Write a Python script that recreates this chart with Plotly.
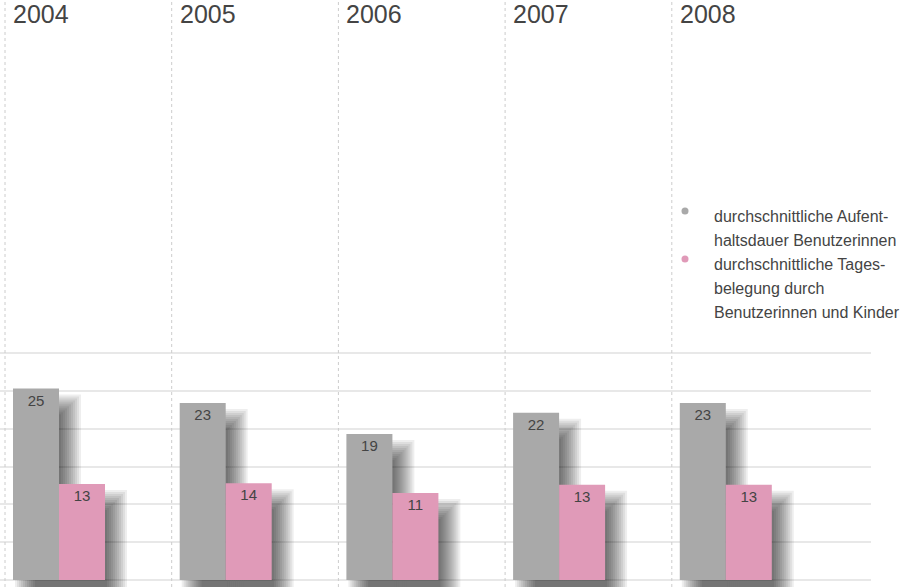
import plotly.graph_objects as go

years = ["2004", "2005", "2006", "2007", "2008"]
aufenthalt = [25.3, 23.4, 19.3, 22.1, 23.4]
aufenthalt_labels = ["25", "23", "19", "22", "23"]
belegung = [12.7, 12.8, 11.5, 12.6, 12.6]
belegung_labels = ["13", "14", "11", "13", "13"]
series_names = [
    ["durchschnittliche Aufent-", "haltsdauer Benutzerinnen"],
    ["durchschnittliche Tages-", "belegung durch", "Benutzerinnen und Kinder"],
]
y_ticks = [0, 5, 10, 15, 20, 25, 30]

GRAY = "#a9a9a9"
PINK = "#e09ab8"
TEXT = "#444444"
FONT = "Liberation Sans, Arial"

W, H = 915, 587
PLOT_W = 871
Y0_PX, Y30_PX = 580, 353
PXU = (Y0_PX - Y30_PX) / 30.0          # px per y unit
P = 166.7                               # px per panel
X0 = 5                                  # first panel line px

def ux(px):
    return (px - X0) / P

def uy(py):
    return (Y0_PX - py) / PXU

xr = [ux(0), ux(PLOT_W)]
yr = [uy(H), uy(0)]

BW = 46 / P
gx = [i + (8 + 23) / P for i in range(len(years))]
px_ = [i + (8 + 46 + 23) / P for i in range(len(years))]

fig = go.Figure()

fig.add_trace(go.Bar(
    x=gx, y=aufenthalt, width=[BW] * len(years), marker=dict(color=GRAY, line=dict(width=0)),
    text=aufenthalt_labels, textposition="inside", insidetextanchor="end",
    textfont=dict(size=15, color=TEXT, family=FONT), constraintext="none",
    textangle=0, showlegend=False, hoverinfo="skip"))
fig.add_trace(go.Bar(
    x=px_, y=belegung, width=[BW] * len(years), marker=dict(color=PINK, line=dict(width=0)),
    text=belegung_labels, textposition="inside", insidetextanchor="end",
    textfont=dict(size=15, color=TEXT, family=FONT), constraintext="none",
    textangle=0, showlegend=False, hoverinfo="skip"))

shapes = []
# blurred drop shadows
OFFX, OFFY = 12, 16
steps = [-10, -8, -6, -4, -2, 0, 2, 4, 6, 8, 10]
for centers, vals in ((gx, aufenthalt), (px_, belegung)):
    for c, v in zip(centers, vals):
        for e in steps:
            dx = OFFX / P
            shapes.append(dict(
                type="rect", xref="x", yref="y", layer="between",
                x0=c - BW / 2 + dx - e / P, x1=c + BW / 2 + dx + e / P,
                y0=-OFFY / PXU - 5, y1=v - OFFY / PXU + e / PXU,
                fillcolor="rgba(0,0,0,0.068)", line=dict(width=0)))

# dotted panel separators
for i in range(len(years)):
    shapes.append(dict(type="line", xref="x", yref="paper", x0=i, x1=i, y0=0, y1=1,
                       line=dict(color="#cccccc", width=1, dash="dot"), layer="above"))

annotations = []
for i, yv in enumerate(years):
    annotations.append(dict(x=i, y=1, xref="x", yref="paper", xanchor="left", yanchor="top",
                            xshift=6, yshift=2, text=yv, showarrow=False,
                            font=dict(size=25, color=TEXT, family=FONT)))

# legend
leg_colors = [GRAY, PINK]
line_y = 216
for k, lines in enumerate(series_names):
    fig.add_trace(go.Scatter(x=[ux(685)], y=[uy(line_y - 5)], mode="markers",
                             marker=dict(color=leg_colors[k], size=7), showlegend=False,
                             hoverinfo="skip", cliponaxis=False))
    for ln in lines:
        annotations.append(dict(x=ux(712), y=uy(line_y), xref="x", yref="y", xanchor="left",
                                yanchor="middle", text=ln, showarrow=False,
                                font=dict(size=16, color=TEXT, family=FONT)))
        line_y += 24

fig.update_layout(
    width=W, height=H, margin=dict(l=0, r=W - PLOT_W, t=0, b=0),
    paper_bgcolor="white", plot_bgcolor="white",
    barmode="overlay", shapes=shapes, annotations=annotations,
    xaxis=dict(range=xr, showgrid=False, zeroline=False, showticklabels=False, fixedrange=True),
    yaxis=dict(range=yr, tickvals=y_ticks, showgrid=True, gridcolor="#e8e8e8", gridwidth=2,
               zeroline=False, showticklabels=False, fixedrange=True),
    showlegend=False,
)

fig.write_html("out.html")
